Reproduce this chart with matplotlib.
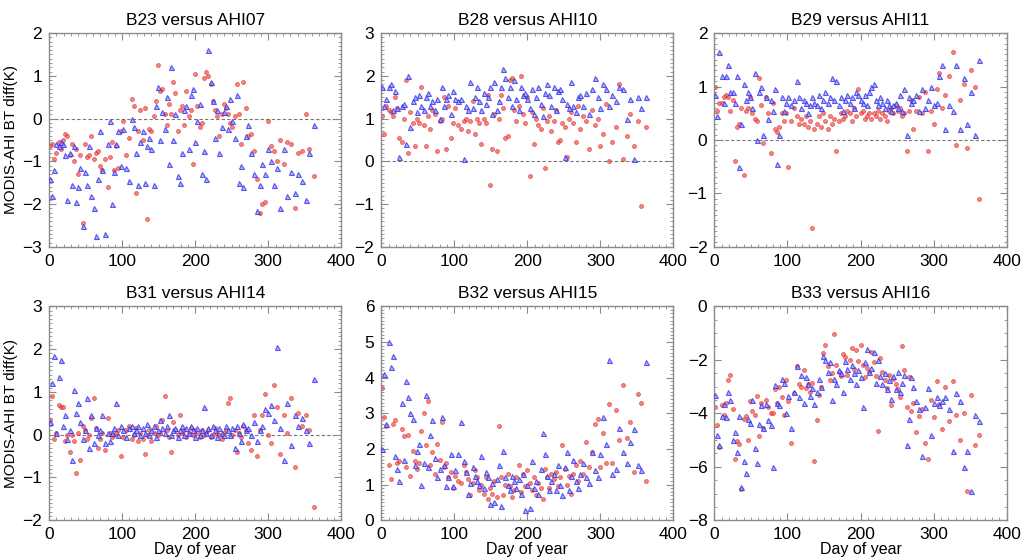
import matplotlib
matplotlib.use("Agg")
import matplotlib.pyplot as plt
from matplotlib.ticker import MultipleLocator

plt.rcParams['font.family'] = ['Liberation Sans', 'DejaVu Sans']

# day of year of the matchups (shared by all bands)
days = [1, 4, 7, 10, 13, 16, 19, 22, 25, 28,
        31, 34, 37, 40, 43, 46, 49, 52, 55, 58,
        61, 64, 67, 70, 73, 77, 80, 83, 86, 89,
        92, 95, 98, 101, 105, 109, 113, 116, 119, 122,
        125, 128, 131, 134, 137, 140, 143, 146, 149, 152,
        155, 158, 161, 164, 167, 170, 173, 176, 179, 182,
        185, 188, 191, 194, 197, 200, 203, 206, 209, 212,
        215, 218, 221, 224, 227, 230, 233, 236, 239, 242,
        245, 248, 251, 254, 257, 260, 263, 266, 269, 272,
        276, 280, 284, 288, 292, 296, 300, 304, 308, 312,
        316, 321, 326, 331, 336, 341, 346, 351, 356, 362]

titles = ["B23 versus AHI07", "B28 versus AHI10", "B29 versus AHI11",
          "B31 versus AHI14", "B32 versus AHI15", "B33 versus AHI16"]

# B23 vs AHI07
red_b23 = [-0.65, -0.6, -0.95, -0.8, -0.55, -0.7, -0.5, -0.35, -0.4, -0.85,
           -0.6, -1.0, -0.7, -1.3, -0.85, -2.45, -0.6, -0.9, -0.85, -0.4,
           -0.95, -0.8, -0.75, -1.1, -1.2, -0.95, -1.6, -0.9, -0.55, -1.2,
           -0.65, -1.15, -0.3, -0.05, -0.85, -0.45, 0.45, 0.3, -1.75, -0.3,
           0.2, -0.5, 0.25, -2.35, -0.25, -0.3, 0.05, 0.4, 1.25, 0.65,
           0.7, 0.1, -0.15, 0.35, 0.1, 0.85, 0.6, -0.3, 0.2, 0.3,
           -0.15, 0.65, 0.05, 0.2, -1.05, 1.05, 0.3, -0.2, -0.1, 0.95,
           1.1, 1.0, 0.8, 0.4, 0.2, 0.05, -0.4, 0.1, 0.35, 0.25,
           0.1, -0.1, -0.2, 0.05, 0.8, 0.1, -0.6, 0.85, 0.25, -0.4,
           -0.35, -0.75, -1.4, -2.2, -2.0, -1.95, -0.05, -0.65, -0.75, -1.0,
           -0.5, -1.05, -0.55, -0.6, -2.1, -0.8, -0.75, 0.1, -0.7, -1.35]
blue_b23 = [-1.4, -1.8, -1.2, -0.6, -0.65, -0.55, -0.6, -0.85, -1.9, -0.8,
            -1.55, -0.65, -1.95, -1.6, -1.15, -2.5, -1.25, -1.55, -0.65, -1.8,
            -2.1, -2.75, -1.4, -0.3, -1.2, -2.7, -0.6, -0.05, -2.0, -1.25,
            -0.6, -0.3, -1.1, -0.25, -1.15, -1.45, 0.0, -0.2, -0.8, -1.55,
            -0.55, -0.3, -1.5, -0.65, -0.45, -0.7, -1.55, 0.3, 0.75, -0.5,
            0.15, -0.25, 0.5, -1.05, 1.2, -0.5, 0.1, -1.35, -1.5, -0.8,
            0.2, 0.3, -0.7, 0.55, 0.7, -0.55, -0.05, 0.35, -1.3, -0.75,
            -1.4, 1.6, 0.85, 0.4, -0.45, 0.2, -0.8, -0.2, 0.15, 0.3,
            -0.25, 0.45, -0.05, -0.45, 0.55, -1.5, -1.1, -1.6, -0.4, -0.15,
            -0.8, -1.3, -2.15, -1.55, -1.05, -1.3, -0.7, -1.0, -1.55, -1.15,
            -2.1, -0.7, -1.8, -1.25, -1.75, -1.3, -1.45, -1.9, -0.8, -0.15]

# B28 vs AHI10
red_b28 = [1.05, 0.65, 1.3, 1.2, 1.15, 1.05, 1.5, 1.25, 0.55, 0.45,
           1.0, 1.9, 0.2, 1.15, 0.9, 0.35, 1.0, 0.9, 1.75, 0.85,
           0.35, 1.05, 0.75, 1.2, 1.1, 0.25, 0.95, 1.0, 1.5, 0.3,
           1.3, 0.55, 0.9, 1.25, 0.85, 0.75, 0.95, 1.0, 0.7, 0.95,
           1.4, 0.65, 1.0, 0.9, 0.4, 1.0, 0.9, 1.55, -0.55, 0.3,
           1.1, 0.25, 1.0, 1.55, 1.25, 0.55, 0.6, 1.9, 1.95, 1.2,
           0.95, 1.3, 2.0, 1.1, 0.9, 1.5, -0.35, 1.15, 0.4, 1.0,
           0.85, 0.75, 1.25, -0.15, 0.95, 1.05, 0.7, 0.95, 1.2, 0.45,
           0.5, 0.9, 0.8, 0.1, 1.0, 1.15, 0.9, 0.45, 1.3, 0.75,
           1.05, 0.95, 0.3, 1.2, 0.85, 1.0, 0.35, 0.65, 1.35, 0.0,
           0.45, 0.8, 1.8, 0.05, 0.6, 1.1, 0.35, 0.95, -1.05, 0.8]
blue_b28 = [1.75, 1.3, 1.45, 1.75, 1.8, 1.2, 1.65, 1.25, 0.1, 1.3,
            1.35, 0.4, 2.0, 0.8, 1.4, 1.5, 1.15, 1.55, 1.3, 1.2,
            1.5, 1.6, 1.3, 1.4, 1.2, 1.45, 1.0, 1.75, 1.3, 1.45,
            1.55, 1.1, 1.65, 1.45, 1.4, 1.45, 0.05, 1.3, 1.2, 1.85,
            1.25, 1.5, 1.75, 1.4, 1.2, 1.6, 1.35, 1.5, 1.75, 1.1,
            1.85, 1.2, 1.4, 1.75, 2.15, 1.95, 1.5, 1.75, 1.3, 1.9,
            1.45, 1.2, 1.75, 1.55, 1.6, 1.45, 1.25, 1.7, 1.1, 1.5,
            1.75, 1.35, 1.05, 1.6, 1.8, 1.55, 1.3, 1.75, 1.2, 1.65,
            1.7, 1.45, 0.1, 1.35, 1.25, 1.85, 1.3, 1.15, 1.5, 1.55,
            1.3, 1.6, 1.1, 1.7, 1.95, 1.5, 1.25, 1.8, 1.7, 1.3,
            1.55, 1.4, 1.75, 1.7, 1.0, 1.45, 0.05, 1.5, 1.25, 1.5]

# B29 vs AHI11
red_b29 = [1.0, 0.55, 0.7, 0.7, 0.8, 0.85, 0.8, 0.55, 0.75, -0.4,
           0.25, 0.3, 0.6, -0.65, 0.55, 0.6, 0.8, 0.5, 0.4, 0.35,
           1.15, 0.65, -0.05, 0.8, 0.5, -0.25, 0.7, 0.2, 0.15, 0.25,
           0.5, 0.35, 0.5, -0.5, 0.35, 0.6, 0.45, 0.3, 0.4, 0.3,
           0.45, 0.25, 0.35, -1.65, 0.2, 0.3, 0.45, 0.25, 0.5, 0.35,
           0.2, 0.45, 0.3, 0.4, -0.2, 0.35, 0.5, 0.4, 0.45, 0.55,
           0.5, 0.35, 0.6, 0.45, 0.95, 0.5, 0.55, 0.4, 0.45, 0.5,
           0.4, 0.5, 0.45, 0.55, 0.4, 0.5, 0.45, 0.35, 0.55, 0.6,
           0.5, 0.65, 0.55, 0.6, 0.45, 0.5, -0.2, 0.55, 0.75, 0.2,
           0.55, 0.8, 0.5, 0.9, -0.2, 0.55, 0.3, 0.95, 1.25, 0.6,
           0.85, 1.2, 1.65, -0.1, 0.75, 1.05, -0.15, 1.3, 1.0, -1.1]
blue_b29 = [0.85, 0.45, 1.65, 1.2, 0.7, 1.2, 1.4, 0.9, 0.9, 0.7,
            1.2, -0.5, 0.3, 1.05, 0.75, 0.9, 0.8, 0.6, 1.25, 0.0,
            0.9, 1.0, 0.1, 0.8, 0.4, 0.75, 0.55, 0.95, -0.45, 0.1,
            0.8, 0.55, 0.7, 0.8, 0.65, 0.75, 1.1, 0.8, 0.6, 0.75,
            0.7, 0.5, 0.65, 0.8, 0.7, 0.65, 0.85, 0.6, 0.75, 0.9,
            0.7, 0.8, 1.15, 0.75, 1.1, 0.65, 0.8, 0.55, 0.75, 0.85,
            0.7, 0.8, 0.6, 0.9, 0.85, 0.75, 0.7, 0.85, 0.65, 0.9,
            1.0, 1.05, 0.75, 0.65, 0.8, 0.7, 0.6, 0.75, 0.65, 0.55,
            0.65, 0.7, 0.6, 0.85, 0.55, 0.95, 0.1, 0.8, 0.7, 0.75,
            0.85, 0.55, 0.95, 0.6, 0.75, 1.0, 0.65, 0.7, 1.2, 1.4,
            0.2, 0.65, 0.55, 1.4, 0.2, 1.15, 0.3, 0.9, 0.1, 1.5]

# B31 vs AHI14
red_b31 = [0.35, 0.9, -0.1, 0.05, 0.7, 0.65, 0.65, -0.15, 0.0, -0.4,
           0.0, -0.15, -0.9, 0.05, -0.6, 0.2, 0.1, -0.1, 0.0, 0.4,
           0.85, 0.15, -0.3, -0.1, 0.05, -0.35, 0.4, 0.05, -0.05, 0.0,
           0.05, 0.1, -0.5, -0.05, 0.1, 0.2, -0.1, 0.0, 0.15, -0.15,
           0.05, -0.1, -0.45, 0.0, 0.1, -0.15, 0.05, 0.2, 0.0, 0.05,
           0.35, 0.9, 0.1, -0.05, -0.4, 0.3, 0.1, 0.0, 0.45, 0.05,
           0.1, -0.05, 0.05, 0.15, 0.0, 0.1, 0.05, -0.05, 0.1, 0.0,
           0.05, 0.1, -0.05, 0.0, 0.15, 0.05, 0.0, -0.1, 0.05, 0.1,
           0.75, 0.85, 0.0, 0.1, -0.4, 0.05, -0.05, 0.2, 0.1, -0.2,
           -0.35, 0.45, -0.5, 0.1, 0.45, 0.95, 0.0, -0.2, 1.15, 0.65,
           -0.45, 0.45, 0.05, 0.85, -0.75, 0.5, 0.2, 0.45, 0.1, -1.7]
blue_b31 = [0.3, 1.2, 1.85, 0.05, 1.35, 1.75, 0.2, 0.45, -0.1, 0.1,
            -0.6, 1.05, 0.5, 0.75, 0.3, -0.1, 0.1, 0.85, -0.3, 0.45,
            -0.2, 0.15, 0.0, 0.1, 0.45, -0.2, 0.05, -0.15, 0.05, 0.15,
            0.75, 0.0, 0.2, 0.1, -0.05, 0.15, 0.2, 0.05, 0.1, 0.2,
            0.0, 0.15, 0.05, 0.25, 0.0, 0.1, 0.2, -0.05, 0.1, 0.35,
            0.15, 0.05, 0.2, 0.45, 0.0, 0.1, 0.15, -0.05, 0.1, 0.2,
            0.0, 0.15, 0.05, 0.2, 0.1, -0.05, 0.15, 0.0, 0.1, 0.65,
            0.05, 0.15, 0.0, 0.2, 0.1, -0.05, 0.15, 0.05, 0.0, 0.2,
            0.1, 0.0, 0.15, -0.3, 0.2, 0.05, -0.15, 0.25, 0.1, 0.15,
            0.0, 0.3, -0.15, 0.1, 0.2, 0.6, 0.5, 0.7, 0.35, 2.05,
            0.15, -0.6, 0.75, -0.25, 0.45, 0.2, 0.4, 0.1, -0.2, 1.3]

# B32 vs AHI15
red_b32 = [3.7, 2.9, 2.65, 1.55, 1.15, 2.7, 2.8, 1.6, 1.65, 2.55,
           2.35, 1.5, 2.4, 1.25, 1.95, 1.65, 1.45, 1.6, 2.5, 3.0,
           2.1, 3.35, 1.55, 1.9, 1.3, 2.15, 1.7, 2.75, 1.5, 1.6,
           1.2, 1.35, 0.9, 1.25, 1.1, 1.05, 1.55, 1.35, 1.15, 0.7,
           1.05, 1.4, 1.2, 0.85, 1.0, 0.75, 1.2, 0.6, 0.9, 0.75,
           1.1, 0.65, 2.65, 1.2, 0.7, 1.0, 1.3, 0.95, 0.65, 0.85,
           1.2, 1.55, 0.8, 1.3, 0.95, 1.4, 1.05, 0.85, 1.2, 0.7,
           1.05, 0.9, 0.6, 1.45, 1.2, 0.9, 1.3, 1.15, 1.35, 0.95,
           1.2, 2.1, 1.45, 1.0, 1.25, 0.75, 1.3, 1.55, 1.1, 1.65,
           1.3, 2.2, 1.5, 1.9, 2.7, 2.85, 1.5, 2.45, 1.6, 3.25,
           1.6, 3.1, 2.25, 3.8, 2.3, 2.75, 1.35, 3.55, 3.3, 1.1]
blue_b32 = [2.0, 4.1, 2.7, 5.0, 4.3, 4.6, 1.8, 1.45, 1.1, 3.3,
            1.7, 3.9, 3.45, 3.0, 2.85, 1.55, 1.95, 2.15, 1.0, 1.6,
            3.5, 1.5, 2.4, 2.8, 1.75, 1.2, 1.45, 2.9, 1.55, 0.95,
            1.2, 1.85, 0.95, 1.4, 1.85, 2.75, 1.65, 1.35, 0.75, 1.05,
            1.5, 1.25, 1.1, 1.0, 1.8, 0.9, 1.35, 1.2, 0.45, 1.05,
            0.5, 1.15, 1.55, 0.4, 1.95, 1.2, 1.0, 0.85, 1.25, 1.1,
            0.9, 1.15, 0.75, 1.3, 0.3, 1.0, 0.35, 1.65, 0.9, 1.1,
            0.75, 1.45, 2.45, 1.85, 1.25, 0.85, 1.1, 1.3, 0.85, 1.55,
            1.0, 0.7, 1.5, 1.9, 0.85, 1.25, 1.7, 1.1, 0.9, 1.3,
            1.6, 1.2, 1.05, 1.9, 1.4, 1.2, 1.85, 2.9, 2.15, 4.5,
            1.3, 1.45, 2.6, 1.9, 1.6, 2.2, 2.55, 1.55, 1.4, 4.45]

# B33 vs AHI16
red_b33 = [-3.75, -4.45, -5.25, -3.7, -4.05, -3.6, -2.75, -2.55, -3.85, -5.7,
           -5.05, -5.15, -6.85, -4.2, -4.1, -5.0, -3.55, -3.9, -4.05, -3.35,
           -4.85, -3.6, -4.55, -3.5, -3.75, -4.0, -4.0, -3.1, -3.6, -3.0,
           -3.4, -4.05, -2.75, -3.55, -5.1, -3.25, -2.25, -2.9, -3.0, -2.4,
           -3.05, -2.9, -3.2, -2.85, -5.8, -4.25, -3.3, -3.0, -1.75, -1.45,
           -2.25, -2.75, -2.5, -1.05, -2.2, -2.45, -2.6, -1.8, -1.9, -2.55,
           -2.0, -1.55, -2.35, -1.65, -2.05, -1.45, -2.2, -2.65, -2.3, -2.45,
           -1.7, -2.1, -2.6, -4.65, -1.95, -2.45, -2.75, -3.05, -2.55, -3.7,
           -2.7, -2.9, -3.1, -3.4, -1.5, -2.4, -3.75, -2.65, -3.9, -3.6,
           -4.7, -4.1, -3.85, -5.1, -5.7, -3.5, -4.15, -2.8, -3.65, -4.6,
           -3.0, -4.3, -2.8, -4.05, -5.0, -4.0, -6.9, -3.3, -5.2, -4.8]
blue_b33 = [-3.3, -4.8, -5.2, -4.1, -3.65, -4.15, -3.2, -3.5, -5.0, -4.7,
            -5.45, -4.1, -6.75, -5.8, -6.25, -4.2, -4.35, -3.5, -5.3, -5.85,
            -4.4, -3.7, -4.55, -3.65, -4.25, -4.45, -6.0, -2.95, -3.6, -3.7,
            -2.7, -2.85, -4.0, -3.35, -4.55, -3.2, -2.25, -3.4, -2.55, -3.6,
            -2.65, -2.9, -3.35, -3.05, -3.65, -3.2, -2.7, -3.0, -1.85, -2.0,
            -2.45, -2.1, -3.5, -2.7, -2.9, -2.4, -2.5, -3.2, -2.05, -2.35,
            -2.7, -2.2, -2.5, -2.9, -2.4, -2.65, -3.75, -2.1, -1.6, -2.45,
            -2.3, -1.7, -2.85, -2.0, -2.6, -2.9, -2.5, -3.1, -2.75, -3.45,
            -2.6, -3.1, -2.45, -3.2, -2.85, -2.55, -5.2, -4.2, -2.65, -3.0,
            -3.55, -3.85, -5.6, -3.75, -3.05, -4.8, -3.6, -3.4, -3.7, -3.55,
            -3.4, -3.85, -5.4, -3.25, -3.55, -6.0, -5.4, -6.9, -4.05, -4.3]

red_all = [red_b23, red_b28, red_b29, red_b31, red_b32, red_b33]
blue_all = [blue_b23, blue_b28, blue_b29, blue_b31, blue_b32, blue_b33]
ylims = [(-3, 2), (-2, 3), (-2, 2), (-2, 3), (0, 6), (-8, 0)]

fig = plt.figure(figsize=(10.22, 5.6), dpi=100)
lefts = [0.048, 0.373, 0.699]
bottoms = [0.559, 0.071]
w, h = 0.286, 0.382
frame = '#8a8a8a'

for i in range(6):
    r, c = divmod(i, 3)
    ax = fig.add_axes([lefts[c], bottoms[r], w, h])
    lo, hi = ylims[i]
    if lo < 0 < hi:
        ax.axhline(0, color='#777777', lw=0.8, ls=(0, (3, 2)), zorder=1)
    ax.plot(days, red_all[i], 'o', ms=2.9, mfc='#f05048', mec='#e02525',
            mew=0.5, alpha=0.7, zorder=2)
    ax.plot(days, blue_all[i], '^', ms=3.6, mfc=(0.6, 0.6, 1.0, 0.4),
            mec='#2a2ae6', mew=0.8, alpha=0.75, zorder=3)
    ax.set_xlim(0, 400)
    ax.set_ylim(lo, hi)
    ax.xaxis.set_major_locator(MultipleLocator(100))
    ax.xaxis.set_minor_locator(MultipleLocator(10))
    if i == 5:
        ax.yaxis.set_major_locator(MultipleLocator(2))
        ax.yaxis.set_minor_locator(MultipleLocator(0.5))
    else:
        ax.yaxis.set_major_locator(MultipleLocator(1))
        ax.yaxis.set_minor_locator(MultipleLocator(0.1))
    ax.tick_params(which='both', direction='in', top=True, right=True,
                   color=frame, labelsize=12.5, pad=5)
    ax.tick_params(which='major', length=5, width=0.8)
    ax.tick_params(which='minor', length=2.5, width=0.6)
    for s in ax.spines.values():
        s.set_color(frame)
        s.set_linewidth(1.0)
    ax.set_title(titles[i], fontsize=12.5, pad=6)
    if c == 0:
        ax.set_ylabel('MODIS-AHI BT diff(K)', fontsize=11, labelpad=3)
    if r == 1:
        ax.set_xlabel('Day of year', fontsize=11.5, labelpad=0)

fig.savefig('out.png', dpi=100)
